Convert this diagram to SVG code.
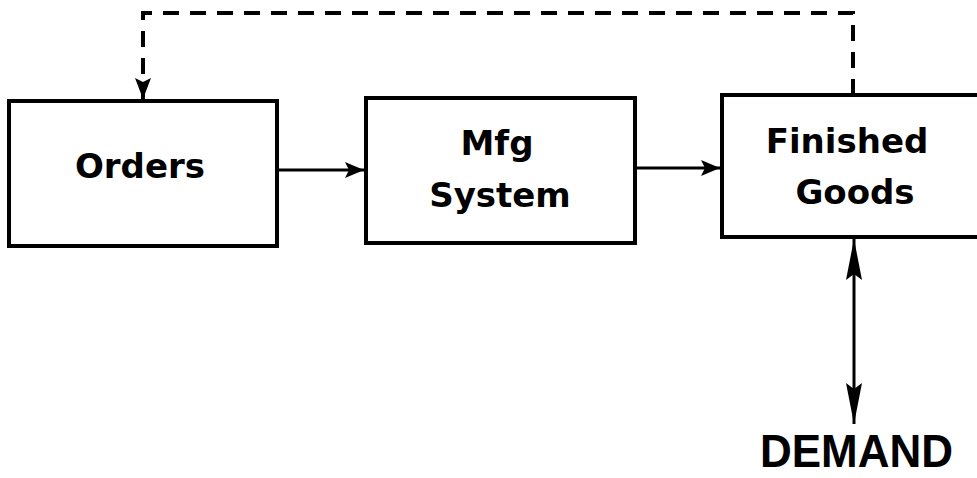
<svg xmlns="http://www.w3.org/2000/svg" width="977" height="478" viewBox="0 0 977 478">
<style>
.box{fill:#fff;stroke:#000;stroke-width:4}
.lbl{font-family:"DejaVu Sans","Liberation Sans",sans-serif;font-weight:bold;font-size:34px;text-anchor:middle;fill:#000}
.con{fill:none;stroke:#000;stroke-width:3}
.dash{fill:none;stroke:#000;stroke-width:4;stroke-dasharray:16 11}
</style>
<defs>
<marker id="ah" markerUnits="userSpaceOnUse" markerWidth="20" markerHeight="16" refX="19" refY="8" orient="auto">
<path d="M0,0 L19,8 L0,16 L4,8 Z" fill="#000"/>
</marker>
<marker id="ahd" markerUnits="userSpaceOnUse" markerWidth="22" markerHeight="16" refX="21" refY="8" orient="auto">
<path d="M0,0 L21,8 L0,16 L4,8 Z" fill="#000"/>
</marker>
<marker id="ahl" markerUnits="userSpaceOnUse" markerWidth="42" markerHeight="18" refX="41" refY="9" orient="auto">
<path d="M0,1 L41,9 L0,17 L6,9 Z" fill="#000"/>
</marker>
<marker id="ahls" markerUnits="userSpaceOnUse" markerWidth="42" markerHeight="18" refX="0" refY="9" orient="auto">
<path d="M41,1 L0,9 L41,17 L35,9 Z" fill="#000"/>
</marker>
</defs>
<rect width="977" height="478" fill="#fff"/>
<g id="connectors">
<path class="dash" d="M853,95 V13 H143 V99" marker-end="url(#ahd)"/>
<line class="con" x1="277" y1="170" x2="364" y2="170" marker-end="url(#ah)"/>
<line class="con" x1="635" y1="168" x2="720" y2="168" marker-end="url(#ah)"/>
<line class="con" x1="854" y1="239" x2="854" y2="424" marker-start="url(#ahls)" marker-end="url(#ahl)"/>
</g>
<g id="orders">
<rect class="box" x="9" y="101" width="268" height="145"/>
<text class="lbl" x="140" y="178">Orders</text>
</g>
<g id="mfg">
<rect class="box" x="366" y="98" width="269" height="145"/>
<text class="lbl" x="497" y="155">Mfg</text>
<text class="lbl" x="500" y="207">System</text>
</g>
<g id="finished">
<rect class="box" x="722" y="95" width="270" height="142"/>
<text class="lbl" x="847" y="153">Finished</text>
<text class="lbl" x="855" y="204">Goods</text>
</g>
<g id="demand">
<text x="760" y="467" textLength="193" lengthAdjust="spacingAndGlyphs" font-family="Liberation Sans, sans-serif" font-weight="bold" font-size="47" fill="#000">DEMAND</text>
</g>
</svg>
